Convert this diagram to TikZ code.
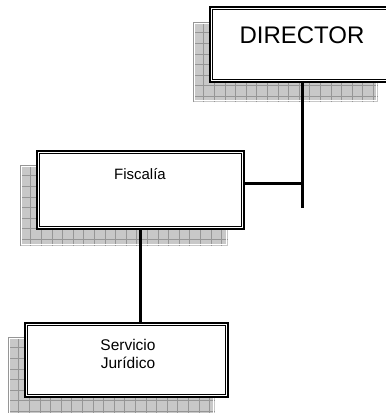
\documentclass[tikz,border=0pt]{standalone}
\usepackage{fontspec}
\setmainfont{Liberation Sans}
\usetikzlibrary{calc}
\definecolor{shadowfill}{RGB}{200,200,200}
\definecolor{shadowgrid}{RGB}{150,150,150}
\newcommand\myshadow[4]{%
  \begin{scope}
    \clip (#1,#2) rectangle (#3,#4);
    \fill[shadowfill] (#1,#2) rectangle (#3,#4);
    \draw[shadowgrid, line width=0.6pt, step=10.6pt, shift={(#1,#2)}] (0,0) grid ({#3-#1},{#4-#2});
    \draw[white, line width=0.8pt] ({#1+1.8},{#2+1.8}) rectangle ({#3-1.8},{#4-1.8});
  \end{scope}}
\begin{document}
\begin{tikzpicture}[x=1pt,y=-1pt,
  orgbox/.style={draw=black, line width=1.8pt, fill=white, rectangle, inner sep=0pt},
  innerline/.style={draw=black, line width=1pt},
  conn/.style={draw=black, line width=3pt},
  lbl/.style={inner sep=0pt, align=center}]
\useasboundingbox (0,0) rectangle (386,413);
\clip (0,0) rectangle (386,413);
% shadows
\myshadow{193}{22}{378}{102}
\myshadow{20}{165}{228}{246}
\myshadow{8}{337}{215}{416}
% boxes
\node[orgbox, minimum width=189.2pt, minimum height=75.2pt] (dir) at (304.5,44.5) {};
\node[orgbox, minimum width=207.2pt, minimum height=78.2pt] (fisc) at (140.5,190) {};
\node[orgbox, minimum width=203.2pt, minimum height=74.2pt] (serv) at (126.5,360) {};
\draw[innerline] ($(dir.north west)+(3.4,3.4)$) rectangle ($(dir.south east)+(-3.4,-3.4)$);
\draw[innerline] ($(fisc.north west)+(3.4,3.4)$) rectangle ($(fisc.south east)+(-3.4,-3.4)$);
\draw[innerline] ($(serv.north west)+(3.4,3.4)$) rectangle ($(serv.south east)+(-3.4,-3.4)$);
% texts
\node[lbl, anchor=base, font=\fontsize{24}{28}\selectfont] (dirtxt) at (302,43) {DIRECTOR};
\node[lbl, anchor=base, font=\fontsize{15}{18}\selectfont] (fisctxt) at (140,179) {Fiscalía};
\node[lbl, anchor=base, font=\fontsize{15.5}{18}\selectfont] (servtxt) at (128,368) {Servicio\\Jurídico};
% connectors
\coordinate (jend) at (302,208);
\coordinate (hj) at (302,183);
\draw[conn] (dir.south -| jend) -- (jend);
\draw[conn] (hj -| fisc.east) -- (hj);
\draw[conn] (fisc.south) -- (serv.north -| fisc.south);
\end{tikzpicture}
\end{document}
